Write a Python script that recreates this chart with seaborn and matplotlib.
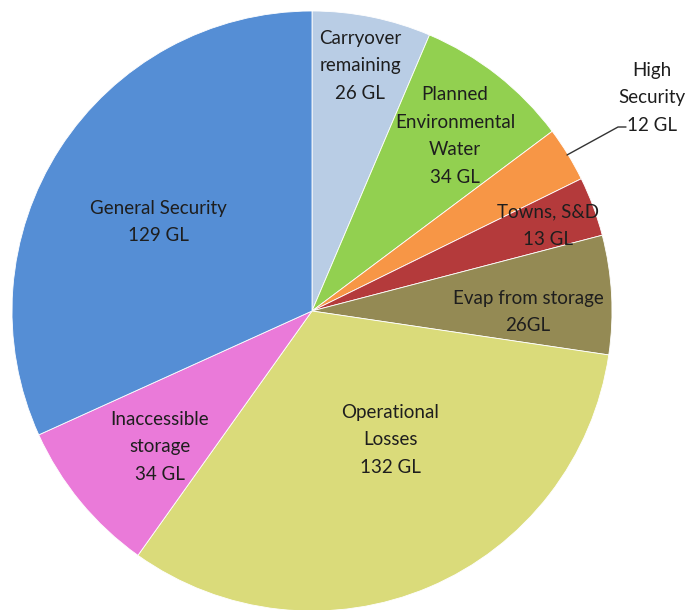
import matplotlib
matplotlib.use("Agg")
import matplotlib.pyplot as plt
import seaborn as sns

# slices, clockwise from 12 o'clock
categories = ["Carryover\nremaining", "Planned\nEnvironmental\nWater", "High\nSecurity",
              "Towns, S&D", "Evap from storage", "Operational\nLosses",
              "Inaccessible\nstorage", "General Security"]
volumes = [26, 34, 12, 13, 26, 132, 34, 129]
value_labels = ["26 GL", "34 GL", "12 GL", "13 GL", "26GL", "132 GL", "34 GL", "129 GL"]
colours = ["#B9CDE5", "#92D050", "#F79646", "#B43A3B", "#948A54", "#DADB7A", "#EA7AD9", "#558ED5"]

# label centres in pixels of the 690x610 image
label_px = [(360, 66), (455, 136), (652, 98), (548, 226), (528, 312),
            (390, 440), (160, 447), (158, 222)]

sns.set_theme(style="white")
plt.rcParams['font.family'] = ['Lato', 'DejaVu Sans']

fig = plt.figure(figsize=(6.9, 6.1), dpi=100)
ax = fig.add_axes([0, 0, 1, 1])

cx, cy, r = 312, 311, 300
def to_data(px, py):
    return (px - cx) / r, (cy - py) / r

ax.pie(volumes, colors=colours, startangle=90, counterclock=False, radius=1.0,
       center=(0, 0), wedgeprops=dict(linewidth=0.6, edgecolor="white"))

for name, val, (px, py) in zip(categories, value_labels, label_px):
    x, y = to_data(px, py)
    ax.text(x, y, f"{name}\n{val}", ha="center", va="center", fontsize=13.5,
            color="#1e1e1e", linespacing=1.75)

# leader line for High Security
p1 = to_data(567, 155)
p2 = to_data(618, 127)
p3 = to_data(626, 127)
ax.plot([p1[0], p2[0], p3[0]], [p1[1], p2[1], p3[1]], color="#333333", lw=1)

ax.set_xlim(-cx / r, (690 - cx) / r)
ax.set_ylim((cy - 610) / r, cy / r)
ax.set_aspect("auto")
ax.axis("off")

fig.savefig("out.png", dpi=100, facecolor="white")
